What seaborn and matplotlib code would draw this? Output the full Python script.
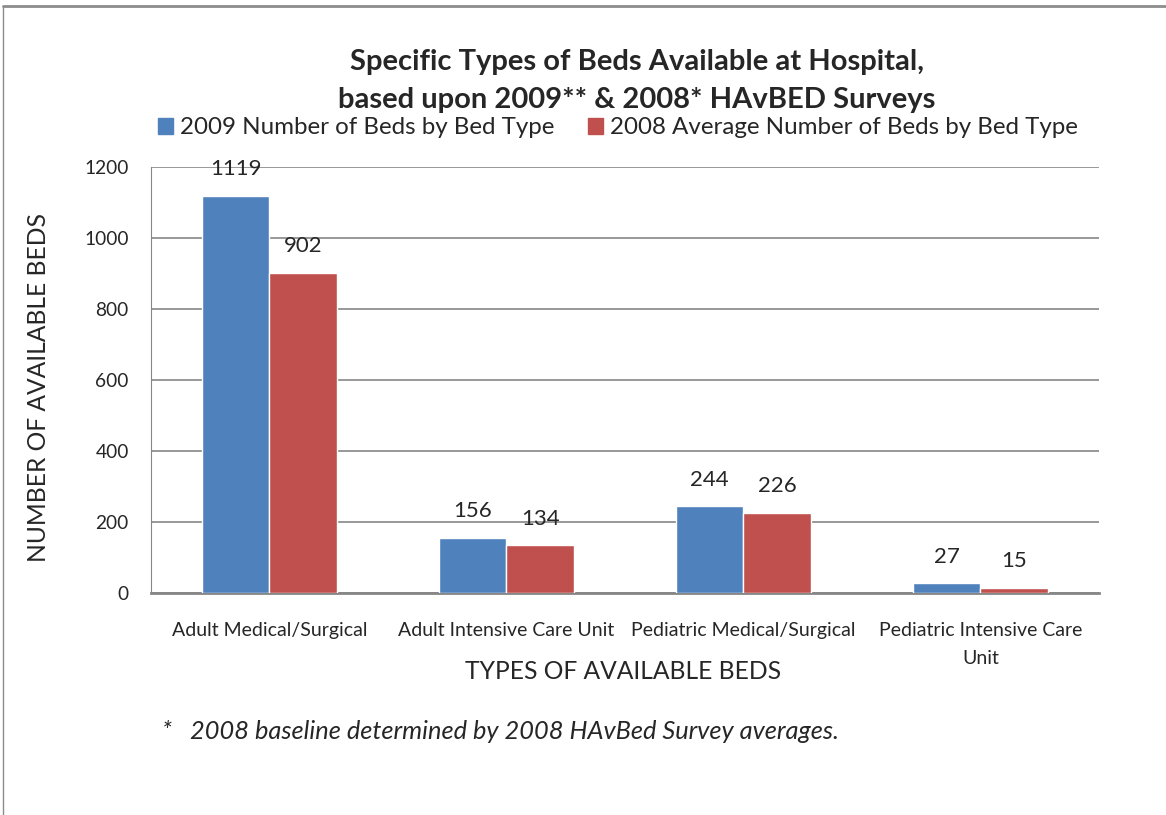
import pandas as pd
import seaborn as sns
import matplotlib.pyplot as plt
from matplotlib.lines import Line2D
from matplotlib.patches import Patch

# Dados
tipos = ['Adult Medical/Surgical', 'Adult Intensive Care Unit',
         'Pediatric Medical/Surgical', 'Pediatric Intensive Care\nUnit']
series = ['2009 Number of Beds by Bed Type', '2008 Average Number of Beds by Bed Type']
leitos_2009 = [1119, 156, 244, 27]
leitos_2008 = [902, 134, 226, 15]
cores = ['#4F81BD', '#C0504D']
yticks = [0, 200, 400, 600, 800, 1000, 1200]

dados = pd.DataFrame({
    'Tipo': tipos * 2,
    'Serie': [series[0]] * 4 + [series[1]] * 4,
    'Leitos': leitos_2009 + leitos_2008,
})

sns.set_style('white')
plt.rcParams['font.family'] = ['Lato', 'DejaVu Sans']

fig = plt.figure(figsize=(11.66, 8.15), dpi=100)
ax = fig.add_axes([0.1295, 0.2724, 0.8130, 0.5226])

sns.barplot(data=dados, x='Tipo', y='Leitos', hue='Serie', order=tipos, hue_order=series,
            palette=cores, width=0.57, saturation=1, ax=ax, legend=False, zorder=3)

# rótulos das barras
for cont in ax.containers:
    ax.bar_label(cont, fmt='%d', padding=12, fontsize=16)

ax.set_xlim(-0.5, 3.5)
ax.set_ylim(0, 1200)
ax.set_yticks(yticks)
ax.tick_params(axis='y', labelsize=13.8, length=0, pad=16)
ax.tick_params(axis='x', labelsize=14, length=0, pad=21)
for lab in ax.get_xticklabels():
    lab.set_linespacing(1.8)
ax.yaxis.grid(True, color='#868686', linewidth=1.2, zorder=0)
for s in ['top', 'right']:
    ax.spines[s].set_visible(False)
ax.spines['left'].set_color('#868686')
ax.spines['bottom'].set_color('#868686')
ax.spines['bottom'].set_linewidth(2)

ax.set_xlabel('TYPES OF AVAILABLE BEDS', fontsize=17.7, va='center')
ax.xaxis.set_label_coords(0.498, -0.1854)
ax.set_ylabel('NUMBER OF AVAILABLE BEDS', fontsize=17.7, va='center')
ax.yaxis.set_label_coords(-0.119, 0.4836)

# título e legenda
fig.text(0.546, 0.924, 'Specific Types of Beds Available at Hospital,', ha='center', va='center',
         fontsize=21, fontweight='bold')
fig.text(0.546, 0.877, 'based upon 2009** & 2008* HAvBED Surveys', ha='center', va='center',
         fontsize=21, fontweight='bold')
handles = [Patch(color=c) for c in cores]
fig.legend(handles, series, loc='center', bbox_to_anchor=(0.530, 0.843), ncol=2, frameon=False,
           fontsize=17.4, handlelength=0.6, handleheight=0.6, handletextpad=0.3, columnspacing=1.4)

# nota de rodapé
fig.text(0.139, 0.102, '*   2008 baseline determined by 2008 HAvBed Survey averages.', fontsize=18.3,
         style='italic', va='center')

# borda
fig.add_artist(Line2D([0.003, 1], [0.993, 0.993], color='#8c8c8c', linewidth=2, transform=fig.transFigure))
fig.add_artist(Line2D([0.003, 0.003], [0, 0.993], color='#8c8c8c', linewidth=1, transform=fig.transFigure))

plt.savefig('out.png', dpi=100)
